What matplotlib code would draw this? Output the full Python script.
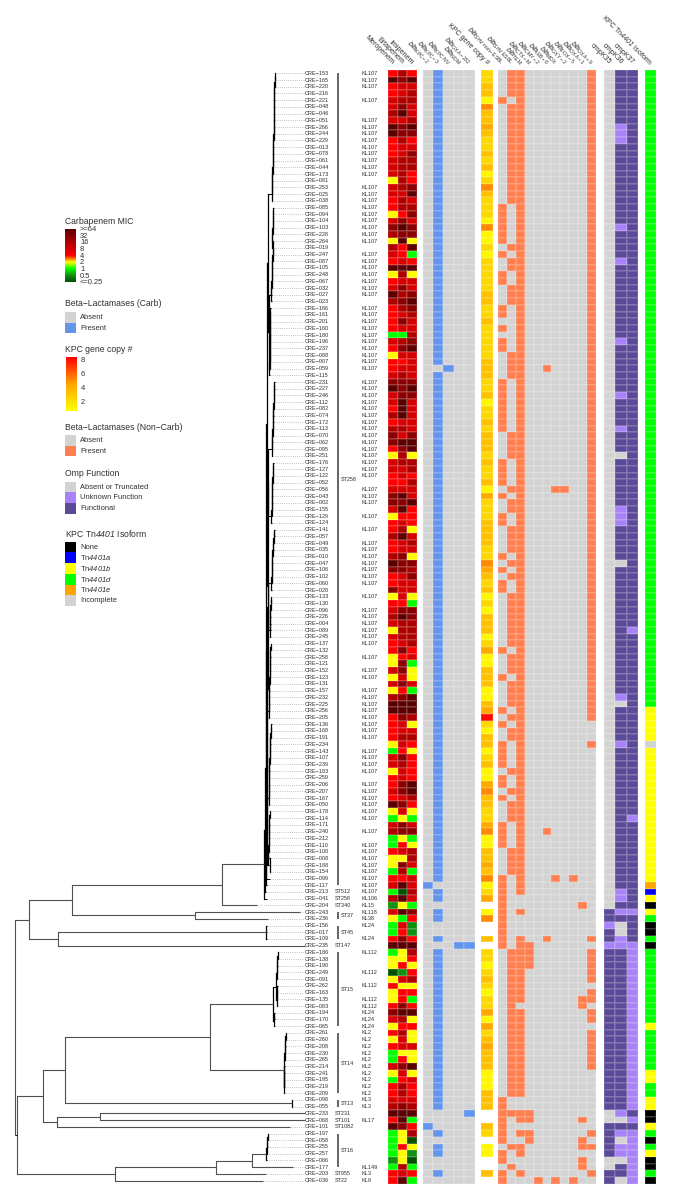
import numpy as np
import matplotlib
matplotlib.use("Agg")
import matplotlib.pyplot as plt
from matplotlib.colors import LinearSegmentedColormap, ListedColormap, BoundaryNorm, Normalize

plt.rcParams['font.family'] = ['Liberation Sans', 'DejaVu Sans']
plt.rcParams['mathtext.fontset'] = 'custom'
plt.rcParams['mathtext.rm'] = 'Liberation Sans'
plt.rcParams['mathtext.it'] = 'Liberation Sans:italic'
plt.rcParams['mathtext.bf'] = 'Liberation Sans:italic'

# ------------------------------------------------------------------ data
ISOLATES = """153 165 220 216 221 048 046 051 266 244 229 013 078 061 044 173 081 253 025 038 085 094 104 103 228 264 019
247 087 105 248 067 032 027 023 166 161 201 160 180 196 237 088 007 059 115 231 227 246 112 082 074 172 113 070 062 095
251 176 127 122 052 056 043 002 155 129 124 141 057 049 035 010 047 106 102 060 028 133 130 096 226 004 089 245 137 132
258 121 152 123 131 157 232 225 256 205 136 168 191 234 143 107 239 183 259 206 207 167 050 178 114 171 240 212 110 100
008 188 154 099 117 213 041 204 243 236 156 017 109 235 186 138 190 249 091 262 163 135 083 194 170 065 261 260 208 230
265 214 241 195 219 209 098 055 233 068 101 197 058 255 257 066 177 203 036""".split()
N = len(ISOLATES)

KL107_BLANK = [3, 5, 6, 16, 26, 34, 45, 61, 65, 67, 69, 77, 79, 86, 88, 91, 100, 105, 112, 114]
KL_LOWER = {123: 'KL106', 124: 'KL15', 125: 'KL118', 126: 'KL38', 127: 'KL24', 129: 'KL24', 131: 'KL112',
            134: 'KL112', 136: 'KL112', 138: 'KL112', 139: 'KL112', 140: 'KL24', 141: 'KL24', 142: 'KL24',
            143: 'KL2', 144: 'KL2', 145: 'KL2', 146: 'KL2', 147: 'KL2', 148: 'KL2', 149: 'KL2', 150: 'KL2',
            151: 'KL2', 152: 'KL2', 153: 'KL3', 154: 'KL3', 156: 'KL17', 163: 'KL149', 164: 'KL3', 165: 'KL9'}
ST_SINGLE = {122: 'ST512', 123: 'ST258', 124: 'ST340', 130: 'ST147', 155: 'ST231', 156: 'ST101', 157: 'ST1082',
             164: 'ST955', 165: 'ST22'}
ST_GROUPS = [('ST258', 0, 121), ('ST37', 125, 126), ('ST45', 127, 129), ('ST15', 131, 142), ('ST14', 143, 152),
             ('ST13', 153, 154), ('ST16', 158, 163)]

# log2 MIC code per row (meropenem, ertapenem, imipenem): 6 >=64, 5 32, 4 16, 3 8, 2 4, 1 2, 0 1, a 0.5, b <=0.25
MIC_ROWS = """242 656 233 234 344 353 463 334 656 655 242 233 235 344 344 342 142 345 336 243 244 125 353 565 455 161 426
320 232 666 141 233 353 645 456 245 234 253 233 004 345 256 133 223 233 343 555 656 355 363 263 463 233 443 535 566 256
141 344 334 232 224 333 563 556 362 122 232 241 463 234 233 451 655 554 235 233 533 131 220 355 465 344 144 344 234 252
123 150 351 131 353 120 456 666 666 254 231 233 244 132 021 352 342 132 232 256 356 234 652 131 010 353 455 010 021 234
114 153 040 223 363 0b4 463 a10 365 102 03a 02a 252 666 014 112 121 ba2 134 211 122 120 252 566 341 122 241 131 233 011
021 356 131 023 242 242 333 454 666 260 652 014 01b 021 01a a1b 040 232 260""".split()
MIC_LOG2 = {'6': 6, '5': 5, '4': 4, '3': 3, '2': 2, '1': 1, '0': 0, 'a': -1, 'b': -2}
MIC_LABELS = ['Meropenem', 'Ertapenem', 'Imipenem']

CARB_LABELS = [r'$\mathit{bla}_{\mathrm{KPC-2}}$', r'$\mathit{bla}_{\mathrm{KPC-3}}$', r'$\mathit{bla}_{\mathrm{KPC\ NV}}$',
               r'$\mathit{bla}_{\mathrm{NDM}}$', r'$\mathit{bla}_{\mathrm{OXA-232}}$']
BLA_KPC2 = [121, 157]
BLA_KPC3 = [*range(0, 44), *range(45, 121), 122, 123, 125, 126, 129, *range(131, 155), 158, 160, 161, 164]
BLA_KPCNV = [44]
BLA_NDM = [130]
BLA_OXA232 = [130, 155]

# KPC copy number per row; '-' is not applicable
COPY_CODES = ("bbccaeccdcbbcbcabecbbbaeaababbbbbccbbcbbb"
              "bbcccbbcabbcbcccbcbbcadbbbccccbbedcbcabac"
              "ccabdaacccaacdfbaccabcaadeccbbdeaaccdcea"
              "bd-ae--c-bbabcbabbdadbcdcccaaaccc--cb-aa--c-")
COPY_VALUE = {'a': 1.2, 'b': 2.5, 'c': 3.5, 'd': 4.5, 'e': 5.3, 'f': 8.3, '-': np.nan}

NONCARB_LABELS = [r'$\mathit{bla}_{\mathrm{SHV\ non-ESBL}}$', r'$\mathit{bla}_{\mathrm{SHV\ ESBL}}$',
                  r'$\mathit{bla}_{\mathrm{TEM}}$', r'$\mathit{bla}_{\mathrm{CTX-M}}$', r'$\mathit{bla}_{\mathrm{CMY-2}}$',
                  r'$\mathit{bla}_{\mathrm{IEB-8}}$', r'$\mathit{bla}_{\mathrm{MOX}}$', r'$\mathit{bla}_{\mathrm{OXY-2}}$',
                  r'$\mathit{bla}_{\mathrm{FOX-5}}$', r'$\mathit{bla}_{\mathrm{OXA-1}}$', r'$\mathit{bla}_{\mathrm{OXA-9}}$']
SHV_NON_ESBL = [4, *range(20, 26), 27, 30, 31, 35, 36, 38, 40, 41, *range(46, 54), *range(58, 62), 63, 66, 67, 72, 74,
                76, 77, 86, 90, 95, 97, *range(100, 104), 105, 106, 108, *range(112, 116), *range(120, 131),
                *range(153, 160), 161, 162, 164, 165]
SHV_ESBL = [*range(0, 4), *range(5, 20), 26, 28, 29, 32, 33, 34, *range(42, 46), *range(54, 58), 62, 64, 65,
            *range(68, 72), 73, 75, *range(78, 86), 87, 88, 89, 91, 92, 93, 94, 96, 98, 99, 104, 107, 109, 110, 111,
            *range(116, 120), *range(131, 153), 155, 160, 163]
TEM = [*range(0, 123), 125, *range(129, 139), *range(140, 153), 155, 156, 158, 160, 161, 164]
CTXM = [130, 131, 132, 133, 155, 156, 158, 159]
CMY2 = [165]
IEB8 = [44, 113, 129]
MOX = [62, 120, 165]
OXY2 = [62]
FOX5 = [120, 165]
OXA1 = [124, 138, 139, 156, 159, 160, 162, 163]
OXA9 = [*range(0, 97), 100, 129, *range(131, 136), 137, 138, 140, 141, *range(143, 149), 158, 160, 164]

OMP_LABELS = ['ompK35', 'ompK36', 'ompK37']
OMPK35_FUNC = [125, 126, 128, 129, *range(131, 155), 157, 158, 159, 160, 161, 164, 165]
OMPK35_UNK = [127, 130]
OMPK36_UNK = [8, 9, 10, 23, 28, 40, 48, 53, 65, 66, 67, 93, 100, 122, 123, 125, 129, 130, 155, 158, 160, 161]
OMPK36_ABS = [57, 73, 94, 127, 128, 156, 159, 162, 165]
OMPK37_UNK = [83, 111, 125, 130, *range(131, 155), 156, 158, 159, 160, 161, 162, 163, 164, 165]

TN_CODES = ('d' * 95 + 'b' * 5 + 'i' + 'b' * 20 + 'e' + 'a' + 'b' + 'n' + 'b' + 'd' + 'nn' + 'd' + 'n' + 'd' * 11 + 'b' +
            'd' * 6 + 'bb' + 'dd' + 'bb' + 'nn' + 'b' + 'd' + 'n' + 'd' + 'b' + 'nn' + 'd' + 'n')
TN_ORDER = 'nabdei'
TN_LABEL = r'KPC Tn$\mathbf{4401}$ Isoform'

# tip depth (tree x units) per row
TIP_X = [275, 275, 274.8, 274.6, 274.6, 274.4, 274.2, 274.2, 274, 274, 273.8, 273.6, 273.4, 273.2, 273, 272.8, 272.6, 272.4,
         272.2, 272, 273.5, 273.4, 273.2, 273, 272.8, 272.6, 272.4, 273, 272.8, 272.6, 272.4, 272, 271.8, 271.6, 271.5,
         270.5, 270.4, 270.4, 270.3, 270.2, 270, 270, 269.9, 269.8, 269.8, 269.7, 275, 274.6, 274.4, 274, 273.8, 273.5,
         273.2, 273, 272.8, 272.6, 272.4, 272.2, 273.5, 273.3, 273, 272.8, 272.6, 272.4, 272.2, 272, 271.8, 271.6, 275,
         274.6, 274, 273.6, 273, 272.6, 272.2, 272, 271.8, 271.5, 271, 270.9, 270.8, 270.7, 270.6, 270.5, 270.4, 271,
         270.8, 270.6, 270.4, 270.2, 270, 269.8, 269.6, 269.4, 269.4, 269.2, 269, 271.7, 271.4, 271, 270.6, 270.2, 270,
         269.8, 269.6, 269.4, 269.2, 269, 269, 268.8, 270, 269.8, 269.6, 269.4, 269.2, 269, 268.8, 268.6, 268.4, 270,
         270, 267, 265.5, 267, 257, 300, 268, 267, 267, 267, 305, 278.3, 278, 277.6, 277.3, 277, 277.5, 277.2, 277, 277,
         274.8, 274.5, 274.2, 286, 285.8, 285.6, 285.4, 285.2, 284.8, 284.6, 284.4, 284.2, 284, 292, 292, 305, 305, 290,
         268.3, 267.8, 267.5, 267, 266.5, 293, 266, 263]


# ------------------------------------------------------------------ tree
def comb(first, last):
    node = first
    for r in range(first + 1, last + 1):
        node = (TIP_X[r] - 0.3, [node, r])
    return node


A_CLADE = (268.3, [comb(0, 19), (268.6, [comb(20, 34), comb(35, 45)])])
B_CLADE = (267.5, [(268.2, [comb(46, 57), comb(58, 67)]),
                   (267.2, [(267.8, [comb(68, 77), comb(78, 84)]),
                            (267, [comb(85, 96), (267.4, [comb(97, 109), comb(110, 119)])])])])
ST258_TREE = (263.5, [(265, [(265.5, [(266, [(266.7, [A_CLADE, B_CLADE]), 120]), 121]), 122]), 123])
ST15_TREE = (272.5, [(275.5, [comb(131, 135), comb(136, 139)]), (273.5, [(274.2, [140, 141]), 142])])
ST14_TREE = (283.5, [comb(143, 147), comb(148, 152)])
ST16_TREE = comb(158, 162)
TREE = (15, [(28.5, [(71.5, [(222, [ST258_TREE, 124]), (195, [125, 126])]),
                     (57.5, [(266, [127, 128, 129]), 130])]),
             (16.5, [(43, [(65, [(209.5, [ST15_TREE, ST14_TREE]), (291.5, [153, 154])]),
                           (56.5, [(100, [155, 156]), 157])]),
                     (115, [(216, [(252, [ST16_TREE, 163]), 164]), 165])])])

# ------------------------------------------------------------------ styling constants
W, H = 674, 1200
ROW_TOP, ROW_H = 70.0, 6.71
GRAY, BLUE, CORAL = '#d3d3d3', '#6495ed', '#ff7f50'
DARK_PURPLE, LIGHT_PURPLE = '#5b4a97', '#a883f8'
TN_COLORS = ['#000000', '#0000ff', '#ffff00', '#00ff00', '#ffa500', GRAY]
TXT = '#303030'

fig = plt.figure(figsize=(W / 100, H / 100), dpi=100)
fig.patch.set_facecolor('white')
bottom_px = ROW_TOP + N * ROW_H


def block(x0, x1):
    ax = fig.add_axes([x0 / W, 1 - bottom_px / H, (x1 - x0) / W, N * ROW_H / H])
    ax.axis('off')
    return ax


def draw(x0, x1, matrix, cmap, norm):
    ax = block(x0, x1)
    m = np.ma.masked_invalid(np.asarray(matrix, float))
    ax.pcolormesh(np.arange(m.shape[1] + 1), np.arange(N + 1), m, cmap=cmap, norm=norm,
                  edgecolors=(1, 1, 1, 0.13), linewidth=0.25, antialiased=False)
    ax.set_xlim(0, m.shape[1])
    ax.set_ylim(N, 0)
    return ax


# main pixel overlay, used for text and the tree
ov = fig.add_axes([0, 0, 1, 1], zorder=5)
ov.set_xlim(0, W)
ov.set_ylim(H, 0)
ov.axis('off')
ov.patch.set_alpha(0)


def row_y(r):
    return ROW_TOP + (r + 0.5) * ROW_H


# MIC
MIC_COLORS = ['#005000', '#109010', '#00ff00', '#ffff00', '#ff0000', '#d60000', '#b00000', '#8b0000', '#5a0000']
mic_cmap = LinearSegmentedColormap.from_list('mic', MIC_COLORS, N=256)
mic_norm = Normalize(-2, 6)
mic = [[MIC_LOG2[c] for c in row] for row in MIC_ROWS]
draw(388, 416.7, mic, mic_cmap, mic_norm)


def binary_matrix(cols):
    m = np.zeros((N, len(cols)))
    for j, rows in enumerate(cols):
        m[rows, j] = 1
    return m


bin_norm = BoundaryNorm([-0.5, 0.5, 1.5], 2)
draw(422.7, 474.7, binary_matrix([BLA_KPC2, BLA_KPC3, BLA_KPCNV, BLA_NDM, BLA_OXA232]),
     ListedColormap([GRAY, BLUE]), bin_norm)

copy_cmap = LinearSegmentedColormap.from_list('cp', ['#ffff00', '#ffa500', '#ff0000'])
copy_norm = Normalize(0.8, 8.5)
copies = [[COPY_VALUE[c]] for c in COPY_CODES]
draw(481, 492.7, copies, copy_cmap, copy_norm)

draw(498, 596, binary_matrix([SHV_NON_ESBL, SHV_ESBL, TEM, CTXM, CMY2, IEB8, MOX, OXY2, FOX5, OXA1, OXA9]),
     ListedColormap([GRAY, CORAL]), bin_norm)

omp = np.full((N, 3), 2.0)
omp[:, 0] = 0
omp[OMPK35_FUNC, 0] = 2
omp[OMPK35_UNK, 0] = 1
omp[OMPK36_UNK, 1] = 1
omp[OMPK36_ABS, 1] = 0
omp[OMPK37_UNK, 2] = 1
draw(603.7, 638.3, omp, ListedColormap([GRAY, LIGHT_PURPLE, DARK_PURPLE]), BoundaryNorm([-.5, .5, 1.5, 2.5], 3))

tn = [[TN_ORDER.index(c)] for c in TN_CODES]
draw(644.7, 656.3, tn, ListedColormap(TN_COLORS), BoundaryNorm(np.arange(-.5, 6), 6))

# ------------------------------------------------------------------ tree drawing
TREE_COLOR = '#505050'


def draw_tree(node):
    """returns (x, y) in pixels of the node"""
    if isinstance(node, int):
        x, y = TIP_X[node], row_y(node)
        return x, y
    depth, children = node
    pts = [draw_tree(c) for c in children]
    for (cx, cy) in pts:
        shade = 'black' if cx - depth < 5 else TREE_COLOR
        ov.plot([depth, cx], [cy, cy], color=shade, lw=0.7 if cx - depth < 5 else 0.8, solid_capstyle='butt')
    ys = [p[1] for p in pts]
    shade = 'black' if depth > 262 else TREE_COLOR
    ov.plot([depth, depth], [ys[0], ys[-1]], color=shade, lw=0.9 if depth > 262 else 0.8, solid_capstyle='projecting')
    return depth, (ys[0] + ys[-1]) / 2


draw_tree(TREE)

for r, name in enumerate(ISOLATES):
    y = row_y(r)
    ov.plot([TIP_X[r] + 0.3, 304], [y, y], color='#6e6e6e', lw=0.4, ls=(0, (1.3, 2.6)))
    ov.text(305, y, 'CRE\u2212' + name, fontsize=3.96, color=TXT, ha='left', va='center')
    label = KL_LOWER.get(r) if r >= 123 else (None if r in KL107_BLANK else 'KL107')
    if label:
        ov.text(362, y, label, fontsize=4.0, color=TXT, ha='left', va='center')

for r, st in ST_SINGLE.items():
    ov.text(335, row_y(r), st, fontsize=4.0, color=TXT, ha='left', va='center')
for st, r0, r1 in ST_GROUPS:
    ov.plot([337.8, 337.8], [row_y(r0), row_y(r1)], color='#3a3a3a', lw=1.1, solid_capstyle='butt')
    ov.text(341, (row_y(r0) + row_y(r1)) / 2, st, fontsize=4.0, color=TXT, ha='left', va='center')


# ------------------------------------------------------------------ column headers
def headers(x0, x1, labels, fs=5.1):
    w = (x1 - x0) / len(labels)
    for j, lab in enumerate(labels):
        ov.text(x0 + (j + 0.5) * w + 0.5, 63.5, lab, rotation=-45, rotation_mode='anchor', ha='right', va='center',
                fontsize=fs, color=TXT)


headers(388, 416.7, MIC_LABELS)
headers(422.7, 474.7, CARB_LABELS, fs=5.2)
headers(481, 492.7, ['KPC gene copy #'])
headers(498, 596, NONCARB_LABELS, fs=5.2)
headers(603.7, 638.3, OMP_LABELS)
headers(644.7, 656.3, [TN_LABEL])

# ------------------------------------------------------------------ legends
LX = 65.0
TITLE_FS, LAB_FS = 6.2, 5.4


def legend_title(y, s):
    ov.text(LX, y, s, fontsize=TITLE_FS, color=TXT, ha='left', va='center')


def swatches(y0, items, step=10.7):
    for k, (col, lab) in enumerate(items):
        ov.fill_between([LX, LX + 10.7], y0 + k * step, y0 + (k + 1) * step, color=col, lw=0)
        ov.text(80, y0 + (k + .5) * step, lab, fontsize=LAB_FS, color=TXT, ha='left', va='center')


legend_title(221, 'Carbapenem MIC')
grad = np.linspace(6, -2, 200)[:, None]
ov.imshow(grad, extent=[LX, LX + 10.7, 282.3, 229.3], cmap=mic_cmap, norm=mic_norm, aspect='auto', zorder=2)
MIC_TICKS = ['>=64', '32', '16', '8', '4', '2', '1', '0.5', '<=0.25']
for k, lab in enumerate(MIC_TICKS):
    ov.text(80, 229.5 + k * 6.65, lab, fontsize=LAB_FS, color=TXT, ha='left', va='center')

legend_title(304, 'Beta\u2212Lactamases (Carb)')
swatches(312, [(GRAY, 'Absent'), (BLUE, 'Present')])

legend_title(349, 'KPC gene copy #')
grad2 = np.linspace(8.5, 0.8, 200)[:, None]
ov.imshow(grad2, extent=[66, 76.5, 410.7, 356.7], cmap=copy_cmap, norm=copy_norm, aspect='auto', zorder=2)
for val, yy in zip(['8', '6', '4', '2'], [360, 374, 388, 402]):
    ov.text(81, yy, val, fontsize=LAB_FS, color=TXT, ha='left', va='center')

legend_title(427, 'Beta\u2212Lactamases (Non\u2212Carb)')
swatches(435, [(GRAY, 'Absent'), (CORAL, 'Present')])

legend_title(473.3, 'Omp Function')
swatches(481.7, [(GRAY, 'Absent or Truncated'), (LIGHT_PURPLE, 'Unknown Function'), (DARK_PURPLE, 'Functional')])

legend_title(533.3, TN_LABEL)
swatches(541.7, list(zip(TN_COLORS, ['None', r'Tn$\mathbf{4401a}$', r'Tn$\mathbf{4401b}$', r'Tn$\mathbf{4401d}$',
                                     r'Tn$\mathbf{4401e}$', 'Incomplete'])))

ov.set_xlim(0, W)
ov.set_ylim(H, 0)
fig.savefig('out.png', dpi=100, facecolor='white')
